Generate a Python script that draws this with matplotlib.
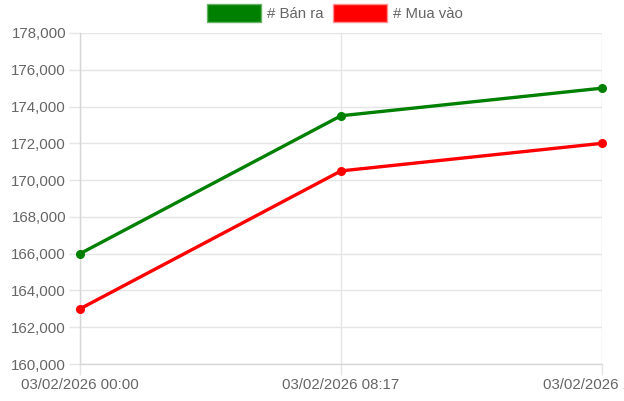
import matplotlib
matplotlib.use("Agg")
import matplotlib.pyplot as plt
from matplotlib.patches import Patch
from matplotlib.ticker import FuncFormatter, MultipleLocator

plt.rcParams['font.family'] = ['Liberation Sans', 'DejaVu Sans']

labels = ["03/02/2026 00:00", "03/02/2026 08:17", "03/02/2026 16:30"]
ban_ra = [166000, 173500, 175000]
mua_vao = [163000, 170500, 172000]

GREEN = "#008000"
RED = "#ff0000"
GREY = "#666666"
GRID = "#e5e5e5"

fig = plt.figure(figsize=(6.24, 4.01), dpi=100)
ax = fig.add_axes([80 / 624, 37 / 401, 522 / 624, 331 / 401])

x = list(range(len(labels)))
ax.plot(x, ban_ra, color=GREEN, lw=2.4, marker="o", ms=5.5, zorder=3, clip_on=False)
ax.plot(x, mua_vao, color=RED, lw=2.4, marker="o", ms=5.5, zorder=3, clip_on=False)

ax.set_xlim(0, len(labels) - 1)
ax.set_ylim(160000, 178000)
ax.yaxis.set_major_locator(MultipleLocator(2000))
ax.yaxis.set_major_formatter(FuncFormatter(lambda v, p: f"{int(v):,}"))
ax.set_xticks(x)
ax.set_xticklabels(labels)

ax.grid(True, color=GRID, lw=1)
for s in ["top", "right"]:
    ax.spines[s].set_visible(False)
for s in ["left", "bottom"]:
    ax.spines[s].set_color("#d6d6d6")
    ax.spines[s].set_linewidth(1)
ax.tick_params(colors=GRID, labelcolor=GREY, labelsize=10.8, length=8, width=1, pad=2)

handles = [Patch(facecolor=GREEN, edgecolor="#66b366", label="# Bán ra"),
           Patch(facecolor=RED, edgecolor="#ff9090", label="# Mua vào")]
fig.legend(handles=handles, loc="upper center", bbox_to_anchor=(0.537, 0.995), ncol=2,
           frameon=False, fontsize=10.8, labelcolor=GREY, handlelength=3.6, handleheight=1.55,
           handletextpad=0.4, columnspacing=0.6, borderaxespad=0.0, borderpad=0.1)

fig.savefig("out.png", dpi=100)
